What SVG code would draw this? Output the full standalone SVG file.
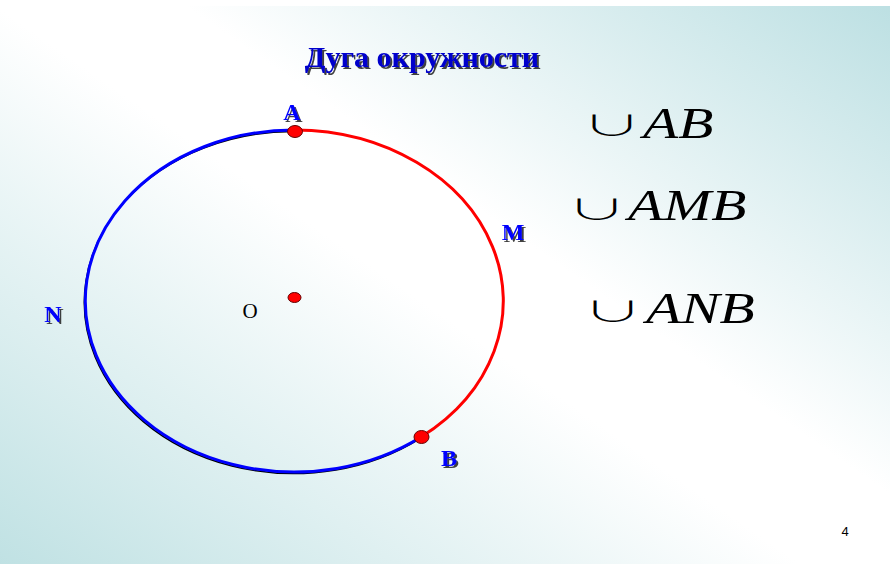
<svg xmlns="http://www.w3.org/2000/svg" width="890" height="564" viewBox="0 0 890 564">
<defs>
<linearGradient id="bg" gradientUnits="userSpaceOnUse" x1="189" y1="700" x2="747" y2="-105">
<stop offset="0" stop-color="#bfe1e3"/>
<stop offset="0.47" stop-color="#ffffff"/>
<stop offset="0.58" stop-color="#ffffff"/>
<stop offset="1" stop-color="#bbdfe2"/>
</linearGradient>
<filter id="sh" x="-20%" y="-20%" width="150%" height="160%">
<feDropShadow dx="2" dy="2" stdDeviation="0.6" flood-color="#222" flood-opacity="0.85"/>
</filter>
<style>
.lbl{font-family:'Liberation Serif',serif;font-weight:bold;font-size:24px;fill:#0000ff;text-anchor:middle;filter:url(#sh)}
.math{font-family:'Liberation Serif',serif;font-style:italic;font-weight:normal;font-size:45px;fill:#000}
.cup{font-family:'Noto Sans CJK JP',sans-serif;font-weight:300;font-size:46px;fill:#000;text-anchor:middle}
.dot{fill:#ff0000;stroke:#600;stroke-width:1}
</style>
</defs>
<rect x="0" y="0" width="890" height="564" fill="#ffffff"/>
<rect x="0" y="6" width="890" height="558" fill="url(#bg)"/>
<text x="422" y="67" font-family="'Liberation Serif', serif" font-weight="bold" font-size="30" fill="#0000cc" text-anchor="middle" filter="url(#sh)">Дуга окружности</text>
<g id="connectors">
<path d="M295,130 A209,171 0 1 0 421,437" fill="none" stroke="#000" stroke-width="1.5" transform="translate(-1,1.5)"/>
<path d="M295,130 A209,171 0 1 0 421,437" fill="none" stroke="#0000ff" stroke-width="3"/>
<path d="M295,130 A209,171 0 0 1 421,437" fill="none" stroke="#ff0000" stroke-width="3"/>
</g>
<g id="center"><ellipse class="dot" cx="294.5" cy="297.5" rx="6.5" ry="5" stroke="none"/><text x="250" y="318" font-family="'Liberation Serif', serif" font-size="21" fill="#000" text-anchor="middle">O</text></g>
<g id="A"><ellipse class="dot" cx="295" cy="131.5" rx="7.5" ry="6"/><text class="lbl" x="292" y="120">A</text></g>
<g id="B"><ellipse class="dot" cx="421.5" cy="437" rx="7.5" ry="6.5"/><text class="lbl" x="449" y="466">B</text></g>
<g id="M"><text class="lbl" x="513" y="240">M</text></g>
<g id="N"><text class="lbl" x="53" y="322">N</text></g>
<g id="arcAB"><text class="cup" transform="translate(612,136) scale(1.3,0.62)">∪</text><text class="math" transform="translate(643,138) scale(1.28,1)">AB</text></g>
<g id="arcAMB"><text class="cup" transform="translate(597,220) scale(1.3,0.62)">∪</text><text class="math" transform="translate(628,220) scale(1.28,1)">AMB</text></g>
<g id="arcANB"><text class="cup" transform="translate(613,322) scale(1.3,0.62)">∪</text><text class="math" transform="translate(646,323) scale(1.28,1)">ANB</text></g>
<text x="845" y="536" font-family="'Liberation Sans', sans-serif" font-size="13" fill="#000" text-anchor="middle">4</text>
</svg>
